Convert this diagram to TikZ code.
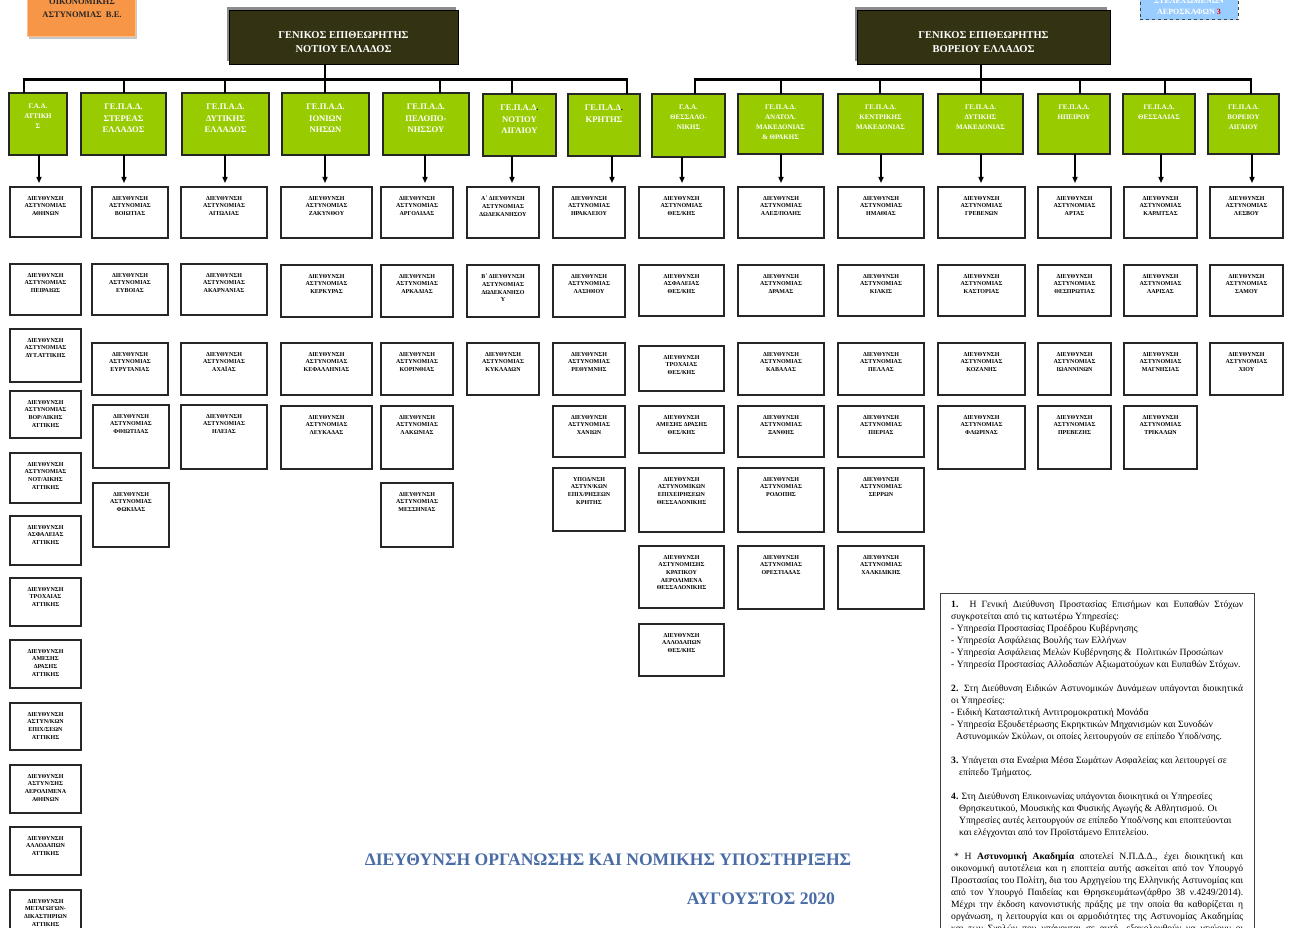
\documentclass[tikz,border=0pt]{standalone}
\usepackage{fontspec}
\setmainfont{Liberation Serif}
\usetikzlibrary{arrows.meta}
\definecolor{gr}{RGB}{153,204,0}
\definecolor{hdr}{RGB}{51,51,20}
\definecolor{org}{RGB}{247,150,70}
\definecolor{lblue}{RGB}{153,204,255}
\definecolor{ttl}{RGB}{74,108,166}
\tikzset{
 wb/.style={draw=black!85, line width=1.1pt, fill=white, inner sep=0pt, outer sep=0pt},
 wt/.style={font=\fontsize{6}{7.7}\selectfont\bfseries, align=center, inner sep=0pt},
 gb/.style={draw=black!85, line width=1.3pt, fill=gr, inner sep=0pt, outer sep=0pt},
 gtL/.style={text=white, align=center, inner sep=0pt, font=\fontsize{8.6}{11.7}\selectfont\bfseries},
 gtS/.style={text=white, align=center, inner sep=0pt, font=\fontsize{7}{10}\selectfont\bfseries},
 hdbox/.style={fill=hdr, draw=black, line width=0.8pt, minimum height=54pt, anchor=north west, inner sep=0pt},
 hdt/.style={text=white, align=center, inner sep=0pt, font=\fontsize{10.5}{14}\selectfont\bfseries},
 bus/.style={line width=3pt},
 drop/.style={line width=2.5pt},
 arr/.style={line width=1.4pt, -{Triangle[length=6pt,width=5pt]}},
 ttlt/.style={text=ttl, inner sep=0pt, font=\fontsize{17.6}{21}\selectfont\bfseries},
}
\newcommand\WB[6]{\node[wb, minimum width=#4pt, minimum height=#5pt, anchor=north west] (#1) at (#2,#3) {};
\node[wt, anchor=north] (#1t) at ([yshift=-9pt]#1.north) {#6};}
\newcommand\GB[7]{\node[gb, minimum width=#4pt, minimum height=#5pt, anchor=north west] (#1) at (#2,#3) {};
\node[#6, anchor=north] (#1t) at ([yshift=-10.5pt]#1.north) {#7};}
\newcommand\DAx[1]{ΔΙΕΥΘΥΝΣΗ\\ΑΣΤΥΝΟΜΙΑΣ\\#1}
\newcommand\Jl[1]{\hbox to 292pt{#1}}
\newcommand\Rl[1]{\hbox{#1}}
\begin{document}
\begin{tikzpicture}[x=1pt,y=-1pt]
\useasboundingbox (0,0) rectangle (1296,928);
% corner boxes
\node[fill=black!22, minimum width=108pt, minimum height=50pt, anchor=south west, inner sep=0pt] (obs) at (29,39) {};
\node[fill=org, draw=org!60!white, line width=0.6pt, minimum width=108pt, minimum height=50pt, anchor=south west, inner sep=0pt] (ob) at (27,37) {};
\node[font=\fontsize{8.5}{13}\selectfont\bfseries, text=black!85, align=center, inner sep=0pt] (obt) at (82,8.5) {ΟΙΚΟΝΟΜΙΚΗΣ\\ΑΣΤΥΝΟΜΙΑΣ\ \ Β.Ε.};
\node[fill=lblue, draw=black!75, dashed, line width=0.9pt, minimum width=98pt, minimum height=40pt, anchor=south west, inner sep=0pt] (bb) at (1140,20) {};
\node[font=\fontsize{8}{11}\selectfont\bfseries, text=white, align=center, inner sep=0pt] (bbt) at (1189,6.5) {ΣΤΕΛΕΧΩΜΕΝΩΝ\\ΑΕΡΟΣΚΑΦΩΝ \textcolor{red}{3}};
% headers
\fill[black!45] (227,7) rectangle (456,61);
\node[hdbox, minimum width=229pt] (hL) at (229,10) {};
\node[hdt] (hLt) at (343.5,42) {ΓΕΝΙΚΟΣ ΕΠΙΘΕΩΡΗΤΗΣ\\ΝΟΤΙΟΥ ΕΛΛΑΔΟΣ};
\fill[black!45] (855,7) rectangle (1107,61);
\node[hdbox, minimum width=253pt] (hR) at (857,10) {};
\node[hdt] (hRt) at (983.5,42) {ΓΕΝΙΚΟΣ ΕΠΙΘΕΩΡΗΤΗΣ\\ΒΟΡΕΙΟΥ ΕΛΛΑΔΟΣ};
% green boxes
\GB{g1}{9}{93}{58}{62}{gtS}{Γ.Α.Α.\\ΑΤΤΙΚΗ\\Σ}
\GB{g2}{81}{93}{85}{62}{gtL}{ΓΕ.Π.Α.Δ.\\ΣΤΕΡΕΑΣ\\ΕΛΛΑΔΟΣ}
\GB{g3}{182}{93}{87}{62}{gtL}{ΓΕ.Π.Α.Δ.\\ΔΥΤΙΚΗΣ\\ΕΛΛΑΔΟΣ}
\GB{g4}{282}{93}{87}{62}{gtL}{ΓΕ.Π.Α.Δ.\\ΙΟΝΙΩΝ\\ΝΗΣΩΝ}
\GB{g5}{383}{93}{86}{62}{gtL}{ΓΕ.Π.Α.Δ.\\ΠΕΛΟΠΟ-\\ΝΗΣΣΟΥ}
\GB{g6}{483}{94}{73}{62}{gtL}{ΓΕ.Π.Α.Δ\textcolor{black}{.}\\ΝΟΤΙΟΥ\\ΑΙΓΑΙΟΥ}
\GB{g7}{568}{94}{72}{62}{gtL}{ΓΕ.Π.Α.Δ\textcolor{black}{.}\\ΚΡΗΤΗΣ}
\GB{g8}{652}{94}{73}{63}{gtS}{Γ.Α.Α.\\ΘΕΣΣΑΛΟ-\\ΝΙΚΗΣ}
\GB{g9}{738}{94}{85}{60}{gtS}{ΓΕ.Π.Α.Δ.\\ΑΝΑΤΟΛ.\\ΜΑΚΕΔΟΝΙΑΣ\\\& ΘΡΑΚΗΣ}
\GB{g10}{838}{94}{85}{60}{gtS}{ΓΕ.Π.Α.Δ.\\ΚΕΝΤΡΙΚΗΣ\\ΜΑΚΕΔΟΝΙΑΣ}
\GB{g11}{938}{94}{85}{60}{gtS}{ΓΕ.Π.Α.Δ.\\ΔΥΤΙΚΗΣ\\ΜΑΚΕΔΟΝΙΑΣ}
\GB{g12}{1038}{94}{72}{60}{gtS}{ΓΕ.Π.Α.Δ.\\ΗΠΕΙΡΟΥ}
\GB{g13}{1123}{94}{72}{60}{gtS}{ΓΕ.Π.Α.Δ.\\ΘΕΣΣΑΛΙΑΣ}
\GB{g14}{1208}{94}{71}{60}{gtS}{ΓΕ.Π.Α.Δ.\\ΒΟΡΕΙΟΥ\\ΑΙΓΑΙΟΥ}
% buses
\coordinate (b1) at (24,80); \coordinate (b2) at (124,80); \coordinate (b3) at (225,80);
\coordinate (b4) at (325,80); \coordinate (b5) at (440,80); \coordinate (b6) at (512,80);
\coordinate (b7) at (627,80);
\coordinate (b8) at (695,80); \coordinate (b9) at (781,80); \coordinate (b10) at (880,80);
\coordinate (b11) at (981,80); \coordinate (b12) at (1080,80); \coordinate (b13) at (1165,80);
\coordinate (b14) at (1251,80);
\draw[drop] (b4 |- hL.south) -- (b4);
\draw[drop] (b11 |- hR.south) -- (b11);
\draw[bus] ([xshift=-1.2pt]b1) -- ([xshift=1.2pt]b7);
\draw[bus] ([xshift=-1.2pt]b8) -- ([xshift=1.2pt]b14);
\foreach \i in {1,...,14} {\draw[drop] (b\i) -- (b\i |- g\i.north);}
% white boxes, left
\WB{w1a}{10}{187}{71}{50}{\DAx{ΑΘΗΝΩΝ}}
\WB{w1b}{10}{264}{71}{51}{\DAx{ΠΕΙΡΑΙΩΣ}}
\WB{w1c}{10}{329}{71}{53}{\DAx{ΔΥΤ.ΑΤΤΙΚΗΣ}}
\WB{w1d}{10}{391}{71}{47}{\DAx{ΒΟΡ/ΑΙΚΗΣ\\ΑΤΤΙΚΗΣ}}
\WB{w1e}{10}{453}{71}{50}{\DAx{ΝΟΤ/ΑΙΚΗΣ\\ΑΤΤΙΚΗΣ}}
\WB{w1f}{10}{516}{71}{49}{ΔΙΕΥΘΥΝΣΗ\\ΑΣΦΑΛΕΙΑΣ\\ΑΤΤΙΚΗΣ}
\WB{w1g}{10}{578}{71}{48}{ΔΙΕΥΘΥΝΣΗ\\ΤΡΟΧΑΙΑΣ\\ΑΤΤΙΚΗΣ}
\WB{w1h}{10}{640}{71}{48}{ΔΙΕΥΘΥΝΣΗ\\ΑΜΕΣΗΣ\\ΔΡΑΣΗΣ\\ΑΤΤΙΚΗΣ}
\WB{w1i}{10}{703}{71}{47}{ΔΙΕΥΘΥΝΣΗ\\ΑΣΤΥΝ/ΚΩΝ\\ΕΠΙΧ/ΣΕΩΝ\\ΑΤΤΙΚΗΣ}
\WB{w1j}{10}{765}{71}{48}{ΔΙΕΥΘΥΝΣΗ\\ΑΣΤΥΝ/ΣΗΣ\\ΑΕΡΟΛΙΜΕΝΑ\\ΑΘΗΝΩΝ}
\WB{w1k}{10}{827}{71}{48}{ΔΙΕΥΘΥΝΣΗ\\ΑΛΛΟΔΑΠΩΝ\\ΑΤΤΙΚΗΣ}
\WB{w1l}{10}{890}{71}{50}{ΔΙΕΥΘΥΝΣΗ\\ΜΕΤΑΓΩΓΩΝ-\\ΔΙΚΑΣΤΗΡΙΩΝ\\ΑΤΤΙΚΗΣ}
\WB{w2a}{92}{187}{76}{51}{\DAx{ΒΟΙΩΤΙΑΣ}}
\WB{w2b}{92}{264}{76}{51}{\DAx{ΕΥΒΟΙΑΣ}}
\WB{w2c}{92}{343}{76}{52}{\DAx{ΕΥΡΥΤΑΝΙΑΣ}}
\WB{w2d}{93}{405}{76}{63}{\DAx{ΦΘΙΩΤΙΔΑΣ}}
\WB{w2e}{93}{483}{76}{64}{\DAx{ΦΩΚΙΔΑΣ}}
\WB{w3a}{181}{187}{86}{51}{\DAx{ΑΙΤΩΛΙΑΣ}}
\WB{w3b}{181}{264}{86}{51}{\DAx{ΑΚΑΡΝΑΝΙΑΣ}}
\WB{w3c}{181}{343}{86}{52}{\DAx{ΑΧΑΪΑΣ}}
\WB{w3d}{181}{405}{86}{64}{\DAx{ΗΛΕΙΑΣ}}
\WB{w4a}{281}{187}{91}{51}{\DAx{ΖΑΚΥΝΘΟΥ}}
\WB{w4b}{281}{265}{91}{52}{\DAx{ΚΕΡΚΥΡΑΣ}}
\WB{w4c}{281}{343}{91}{52}{\DAx{ΚΕΦΑΛΛΗΝΙΑΣ}}
\WB{w4d}{281}{406}{91}{63}{\DAx{ΛΕΥΚΑΔΑΣ}}
\WB{w5a}{381}{187}{72}{51}{\DAx{ΑΡΓΟΛΙΔΑΣ}}
\WB{w5b}{381}{265}{72}{52}{\DAx{ΑΡΚΑΔΙΑΣ}}
\WB{w5c}{381}{343}{72}{52}{\DAx{ΚΟΡΙΝΘΙΑΣ}}
\WB{w5d}{381}{406}{72}{63}{\DAx{ΛΑΚΩΝΙΑΣ}}
\WB{w5e}{381}{483}{72}{64}{\DAx{ΜΕΣΣΗΝΙΑΣ}}
\WB{w6a}{467}{187}{72}{51}{Α΄ ΔΙΕΥΘΥΝΣΗ\\ΑΣΤΥΝΟΜΙΑΣ\\ΔΩΔΕΚΑΝΗΣΟΥ}
\WB{w6b}{467}{265}{72}{52}{Β΄ ΔΙΕΥΘΥΝΣΗ\\ΑΣΤΥΝΟΜΙΑΣ\\ΔΩΔΕΚΑΝΗΣΟ\\Υ}
\WB{w6c}{467}{343}{72}{52}{\DAx{ΚΥΚΛΑΔΩΝ}}
\WB{w7a}{553}{187}{72}{51}{\DAx{ΗΡΑΚΛΕΙΟΥ}}
\WB{w7b}{553}{265}{72}{52}{\DAx{ΛΑΣΙΘΙΟΥ}}
\WB{w7c}{553}{343}{72}{52}{\DAx{ΡΕΘΥΜΝΗΣ}}
\WB{w7d}{553}{406}{72}{51}{\DAx{ΧΑΝΙΩΝ}}
\WB{w7e}{553}{468}{72}{63}{ΥΠΟΔ/ΝΣΗ\\ΑΣΤΥΝ/ΚΩΝ\\ΕΠΙΧ/ΡΗΣΕΩΝ\\ΚΡΗΤΗΣ}
% white boxes, right
\WB{w8a}{639}{187}{85}{51}{\DAx{ΘΕΣ/ΚΗΣ}}
\WB{w8b}{639}{265}{85}{51}{ΔΙΕΥΘΥΝΣΗ\\ΑΣΦΑΛΕΙΑΣ\\ΘΕΣ/ΚΗΣ}
\WB{w8c}{639}{346}{85}{45}{ΔΙΕΥΘΥΝΣΗ\\ΤΡΟΧΑΙΑΣ\\ΘΕΣ/ΚΗΣ}
\WB{w8d}{639}{406}{85}{47}{ΔΙΕΥΘΥΝΣΗ\\ΑΜΕΣΗΣ ΔΡΑΣΗΣ\\ΘΕΣ/ΚΗΣ}
\WB{w8e}{639}{468}{85}{64}{ΔΙΕΥΘΥΝΣΗ\\ΑΣΤΥΝΟΜΙΚΩΝ\\ΕΠΙΧΕΙΡΗΣΕΩΝ\\ΘΕΣΣΑΛΟΝΙΚΗΣ}
\WB{w8f}{639}{546}{85}{62}{ΔΙΕΥΘΥΝΣΗ\\ΑΣΤΥΝΟΜΙΣΗΣ\\ΚΡΑΤΙΚΟΥ\\ΑΕΡΟΛΙΜΕΝΑ\\ΘΕΣΣΑΛΟΝΙΚΗΣ}
\WB{w8g}{639}{624}{85}{52}{ΔΙΕΥΘΥΝΣΗ\\ΑΛΛΟΔΑΠΩΝ\\ΘΕΣ/ΚΗΣ}
\WB{w9a}{738}{187}{86}{51}{\DAx{ΑΛΕΞ/ΠΟΛΗΣ}}
\WB{w9b}{738}{265}{86}{51}{\DAx{ΔΡΑΜΑΣ}}
\WB{w9c}{738}{343}{86}{52}{\DAx{ΚΑΒΑΛΑΣ}}
\WB{w9d}{738}{406}{86}{51}{\DAx{ΞΑΝΘΗΣ}}
\WB{w9e}{738}{468}{86}{64}{\DAx{ΡΟΔΟΠΗΣ}}
\WB{w9f}{738}{546}{86}{63}{\DAx{ΟΡΕΣΤΙΑΔΑΣ}}
\WB{w10a}{838}{187}{86}{51}{\DAx{ΗΜΑΘΙΑΣ}}
\WB{w10b}{838}{265}{86}{51}{\DAx{ΚΙΛΚΙΣ}}
\WB{w10c}{838}{343}{86}{52}{\DAx{ΠΕΛΛΑΣ}}
\WB{w10d}{838}{406}{86}{51}{\DAx{ΠΙΕΡΙΑΣ}}
\WB{w10e}{838}{468}{86}{64}{\DAx{ΣΕΡΡΩΝ}}
\WB{w10f}{838}{546}{86}{63}{\DAx{ΧΑΛΚΙΔΙΚΗΣ}}
\WB{w11a}{938}{187}{87}{51}{\DAx{ΓΡΕΒΕΝΩΝ}}
\WB{w11b}{938}{265}{87}{51}{\DAx{ΚΑΣΤΟΡΙΑΣ}}
\WB{w11c}{938}{343}{87}{52}{\DAx{ΚΟΖΑΝΗΣ}}
\WB{w11d}{938}{406}{87}{63}{\DAx{ΦΛΩΡΙΝΑΣ}}
\WB{w12a}{1038}{187}{73}{51}{\DAx{ΑΡΤΑΣ}}
\WB{w12b}{1038}{265}{73}{51}{\DAx{ΘΕΣΠΡΩΤΙΑΣ}}
\WB{w12c}{1038}{343}{73}{52}{\DAx{ΙΩΑΝΝΙΝΩΝ}}
\WB{w12d}{1038}{406}{73}{63}{\DAx{ΠΡΕΒΕΖΗΣ}}
\WB{w13a}{1124}{187}{73}{51}{\DAx{ΚΑΡΔΙΤΣΑΣ}}
\WB{w13b}{1124}{265}{73}{51}{\DAx{ΛΑΡΙΣΑΣ}}
\WB{w13c}{1124}{343}{73}{52}{\DAx{ΜΑΓΝΗΣΙΑΣ}}
\WB{w13d}{1124}{406}{73}{63}{\DAx{ΤΡΙΚΑΛΩΝ}}
\WB{w14a}{1210}{187}{73}{51}{\DAx{ΛΕΣΒΟΥ}}
\WB{w14b}{1210}{265}{73}{51}{\DAx{ΣΑΜΟΥ}}
\WB{w14c}{1210}{343}{73}{52}{\DAx{ΧΙΟΥ}}
% arrows
\foreach \i/\x in {1/39,2/124,3/225,4/325,5/425,6/512,7/612,8/682,9/781,10/881,11/981,12/1075,13/1161,14/1252}
 {\coordinate (a\i) at (\x,0);
  \draw[arr] (a\i |- g\i.south) -- ([yshift=4pt]a\i |- w\i a.north);}
% notes
\node[draw=black!75, line width=1.2pt, minimum width=314pt, minimum height=360pt, anchor=north west, inner sep=0pt] (nb) at (940,593) {};
\node[anchor=north west, inner sep=0pt] (nt) at (951,601) {\fontsize{9.6}{12}\selectfont\vbox{\hsize=292pt\baselineskip=12pt
\Jl{\textbf{1.} Η Γενική Διεύθυνση Προστασίας Επισήμων και Ευπαθών Στόχων}
\Rl{συγκροτείται από τις κατωτέρω Υπηρεσίες:}
\Rl{- Υπηρεσία Προστασίας Προέδρου Κυβέρνησης}
\Rl{- Υπηρεσία Ασφάλειας Βουλής των Ελλήνων}
\Rl{- Υπηρεσία Ασφάλειας Μελών Κυβέρνησης \&\ \ Πολιτικών Προσώπων}
\Rl{- Υπηρεσία Προστασίας Αλλοδαπών Αξιωματούχων και Ευπαθών Στόχων.}
\Rl{}
\Jl{\textbf{2.} Στη Διεύθυνση Ειδικών Αστυνομικών Δυνάμεων υπάγονται διοικητικά}
\Rl{οι Υπηρεσίες:}
\Rl{- Ειδική Κατασταλτική Αντιτρομοκρατική Μονάδα}
\Rl{- Υπηρεσία Εξουδετέρωσης Εκρηκτικών Μηχανισμών και Συνοδών}
\Rl{\hspace*{5pt}Αστυνομικών Σκύλων, οι οποίες λειτουργούν σε επίπεδο Υποδ/νσης.}
\Rl{}
\Rl{\textbf{3.} Υπάγεται στα Εναέρια Μέσα Σωμάτων Ασφαλείας και λειτουργεί σε}
\Rl{\hspace*{8pt}επίπεδο Τμήματος.}
\Rl{}
\Rl{\textbf{4.} Στη Διεύθυνση Επικοινωνίας υπάγονται διοικητικά οι Υπηρεσίες}
\Rl{\hspace*{8pt}Θρησκευτικού, Μουσικής και Φυσικής Αγωγής \& Αθλητισμού. Οι}
\Rl{\hspace*{8pt}Υπηρεσίες αυτές λειτουργούν σε επίπεδο Υποδ/νσης και εποπτεύονται}
\Rl{\hspace*{8pt}και ελέγχονται από τον Προϊστάμενο Επιτελείου.}
\Rl{}
\Jl{\hspace*{3pt}* Η \textbf{Αστυνομική Ακαδημία} αποτελεί Ν.Π.Δ.Δ., έχει διοικητική και}
\Jl{οικονομική αυτοτέλεια και η εποπτεία αυτής ασκείται από τον Υπουργό}
\Jl{Προστασίας του Πολίτη, δια του Αρχηγείου της Ελληνικής Αστυνομίας και}
\Jl{από τον Υπουργό Παιδείας και Θρησκευμάτων(άρθρο 38 ν.4249/2014).}
\Jl{Μέχρι την έκδοση κανονιστικής πράξης με την οποία θα καθορίζεται η}
\Jl{οργάνωση, η λειτουργία και οι αρμοδιότητες της Αστυνομίας Ακαδημίας}
\Jl{και των Σχολών που υπάγονται σε αυτή, εξακολουθούν να ισχύουν οι}
}};
% titles
\node[ttlt] (t1) at (608,860) {ΔΙΕΥΘΥΝΣΗ ΟΡΓΑΝΩΣΗΣ ΚΑΙ ΝΟΜΙΚΗΣ ΥΠΟΣΤΗΡΙΞΗΣ};
\node[ttlt] (t2) at (761,899) {ΑΥΓΟΥΣΤΟΣ 2020};
\end{tikzpicture}
\end{document}
